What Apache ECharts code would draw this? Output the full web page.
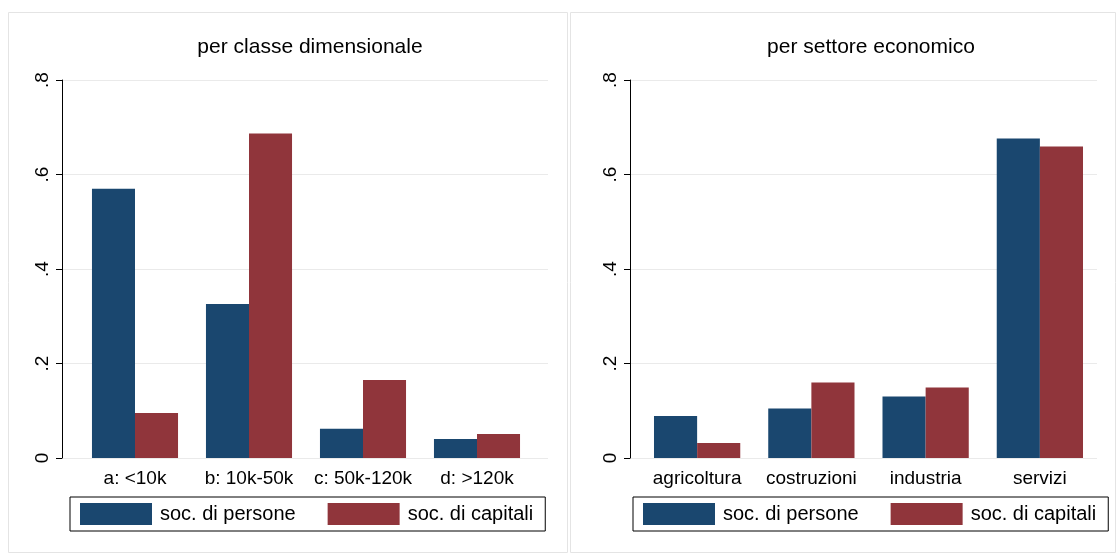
<!DOCTYPE html>
<html>
<head>
<meta charset="UTF-8">
<script src="https://cdn.jsdelivr.net/npm/echarts@6/dist/echarts.min.js"></script>
</head>
<body style="margin:0">
<div id="c" style="width:1117px;height:554px"></div>
<script>
var sizeCats = ['a: <10k', 'b: 10k-50k', 'c: 50k-120k', 'd: >120k'];
var sizePersone = [0.570, 0.326, 0.062, 0.040];
var sizeCapitali = [0.095, 0.687, 0.165, 0.051];
var sectorCats = ['agricoltura', 'costruzioni', 'industria', 'servizi'];
var sectorPersone = [0.089, 0.105, 0.130, 0.676];
var sectorCapitali = [0.032, 0.160, 0.149, 0.659];
var yTicks = {0: '0', 0.2: '.2', 0.4: '.4', 0.6: '.6', 0.8: '.8'};

var navy = '#1a476f', maroon = '#90353b';
var font = 'Liberation Sans, Arial, sans-serif';

function xAxis(i, cats) {
  return {
    gridIndex: i, type: 'category', data: cats,
    axisLine: { show: false }, axisTick: { show: false },
    axisLabel: { color: '#000', fontSize: 19, fontFamily: font, margin: 11, interval: 0 }
  };
}
function yAxis(i, off) {
  return {
    gridIndex: i, type: 'value', min: 0, max: 0.8, interval: 0.2, offset: off,
    axisLine: { show: true, lineStyle: { color: '#000' } },
    axisTick: { show: true, length: 6, lineStyle: { color: '#000' } },
    splitLine: { show: false },
    axisLabel: { rotate: 90, color: '#000', fontSize: 19, fontFamily: font, margin: 10,
      formatter: function (v) { return yTicks[Math.round(v * 10) / 10]; } }
  };
}
// wider invisible axes that only draw the gridlines across the full plot area
function gridAxis(i) {
  return { gridIndex: i, type: 'value', min: 0, max: 0.8, interval: 0.2,
    axisLine: { show: false }, axisTick: { show: false }, axisLabel: { show: false },
    splitLine: { lineStyle: { color: '#eaeaea' } } };
}
function bar(i, name, data, color) {
  return { type: 'bar', name: name, xAxisIndex: i, yAxisIndex: i, data: data,
    itemStyle: { color: color }, barGap: '0%', barCategoryGap: '24.5%' };
}
function legend(left) {
  return {
    left: left, top: 497, itemWidth: 72, itemHeight: 22, itemGap: 32,
    borderColor: '#000', borderWidth: 1, padding: [6, 12, 6, 10],
    textStyle: { fontSize: 20, fontFamily: font, color: '#000', padding: [0, 0, 0, 3] },
    data: ['soc. di persone', 'soc. di capitali'], icon: 'rect'
  };
}

var chart = echarts.init(document.getElementById('c'));
chart.setOption({
  animation: false,
  backgroundColor: '#fff',
  title: [
    { text: 'per classe dimensionale', left: 305, top: 32, textAlign: 'center',
      textStyle: { fontSize: 21, fontWeight: 'normal', fontFamily: font, color: '#000' } },
    { text: 'per settore economico', left: 866, top: 32, textAlign: 'center',
      textStyle: { fontSize: 21, fontWeight: 'normal', fontFamily: font, color: '#000' } }
  ],
  graphic: [
    { type: 'rect', shape: { x: 8.5, y: 12.5, width: 559, height: 540 }, style: { fill: 'none', stroke: '#e4e4e4' } },
    { type: 'rect', shape: { x: 570.5, y: 12.5, width: 545, height: 540 }, style: { fill: 'none', stroke: '#e4e4e4' } }
  ],
  legend: [legend(70), legend(633)],
  grid: [
    { left: 78, width: 456, top: 80, height: 378 },
    { left: 640, width: 457, top: 80, height: 378 },
    { left: 62, width: 486, top: 80, height: 378 },
    { left: 630, width: 467, top: 80, height: 378 }
  ],
  xAxis: [xAxis(0, sizeCats), xAxis(1, sectorCats),
    { gridIndex: 2, show: false }, { gridIndex: 3, show: false }],
  yAxis: [yAxis(0, 16), yAxis(1, 10), gridAxis(2), gridAxis(3)],
  series: [
    bar(0, 'soc. di persone', sizePersone, navy),
    bar(0, 'soc. di capitali', sizeCapitali, maroon),
    bar(1, 'soc. di persone', sectorPersone, navy),
    bar(1, 'soc. di capitali', sectorCapitali, maroon)
  ]
});
</script>
</body>
</html>
